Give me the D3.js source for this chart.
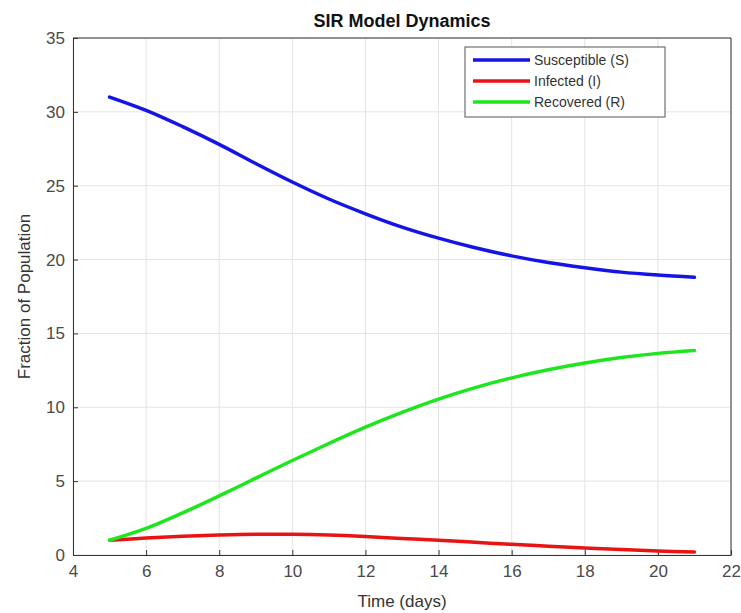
<!DOCTYPE html>
<html>
<head>
<meta charset="utf-8">
<script src="https://cdn.jsdelivr.net/npm/d3@7"></script>
<style>
  body { margin: 0; background: #fff; }
  svg { display: block; font-family: "Liberation Sans", Arial, sans-serif; }
</style>
</head>
<body>
<div id="chart"></div>
<script>
'use strict';

// chart data
var days = [5, 6, 7, 8, 9, 10, 11, 12, 13, 14, 15, 16, 17, 18, 19, 20, 21];
var susceptible = [31.0, 30.1, 29.0, 27.8, 26.5, 25.25, 24.1, 23.1, 22.2, 21.45, 20.8, 20.25, 19.8, 19.45, 19.15, 18.95, 18.8];
var infected = [1.0, 1.15, 1.27, 1.35, 1.4, 1.4, 1.35, 1.25, 1.12, 1.0, 0.86, 0.72, 0.6, 0.48, 0.37, 0.27, 0.2];
var recovered = [1.0, 1.8, 2.85, 4.0, 5.2, 6.4, 7.55, 8.65, 9.65, 10.55, 11.33, 11.99, 12.54, 13.0, 13.37, 13.65, 13.85];
var seriesNames = ['Susceptible (S)', 'Infected (I)', 'Recovered (R)'];
var seriesColors = ['#1414e6', '#e81414', '#1ee61e'];
var xTicks = [4, 6, 8, 10, 12, 14, 16, 18, 20, 22];
var yTicks = [0, 5, 10, 15, 20, 25, 30, 35];

var W = 741, H = 613;
var margin = {top: 38, right: 10, bottom: 58, left: 73};
var width = W - margin.left - margin.right;
var height = H - margin.top - margin.bottom;

var svg = d3.select('#chart').append('svg')
	.attr('width', W)
	.attr('height', H);

var g = svg.append('g')
	.attr('transform', 'translate(' + margin.left + ',' + margin.top + ')');

var x = d3.scaleLinear().domain([4, 22]).range([0, width]);
var y = d3.scaleLinear().domain([0, 35]).range([height, 0]);

// grid
g.append('g').selectAll('line').data(xTicks).enter().append('line')
	.attr('x1', function(d){ return x(d); }).attr('x2', function(d){ return x(d); })
	.attr('y1', 0).attr('y2', height)
	.attr('stroke', '#e4e4e4').attr('stroke-width', 1);
g.append('g').selectAll('line').data(yTicks).enter().append('line')
	.attr('y1', function(d){ return y(d); }).attr('y2', function(d){ return y(d); })
	.attr('x1', 0).attr('x2', width)
	.attr('stroke', '#e4e4e4').attr('stroke-width', 1);

// axes
var xAxis = d3.axisBottom(x).tickValues(xTicks).tickSizeInner(-5).tickSizeOuter(0).tickPadding(10);
var yAxis = d3.axisLeft(y).tickValues(yTicks).tickSizeInner(-5).tickSizeOuter(0).tickPadding(8);

var gx = g.append('g').attr('transform', 'translate(0,' + height + ')').call(xAxis);
var gy = g.append('g').call(yAxis);
[gx, gy].forEach(function(a){
	a.select('.domain').attr('stroke', '#333');
	a.selectAll('.tick line').attr('stroke', '#333');
	a.selectAll('.tick text').attr('fill', '#4a4a4a').style('font-size', '17px');
});

// box top / right
g.append('line').attr('x1', 0).attr('x2', width).attr('y1', 0).attr('y2', 0).attr('stroke', '#333');
g.append('line').attr('x1', width).attr('x2', width).attr('y1', 0).attr('y2', height).attr('stroke', '#333');

// lines
var line = d3.line()
	.x(function(d){ return x(d[0]); })
	.y(function(d){ return y(d[1]); })
	.curve(d3.curveCatmullRom);

[susceptible, infected, recovered].forEach(function(vals, i){
	g.append('path')
		.datum(days.map(function(t, j){ return [t, vals[j]]; }))
		.attr('fill', 'none')
		.attr('stroke', seriesColors[i])
		.attr('stroke-width', 3.5)
		.attr('stroke-linecap', 'round')
		.attr('d', line);
});

// legend
var lg = svg.append('g').attr('transform', 'translate(465,47)');
lg.append('rect').attr('width', 200).attr('height', 70)
	.attr('fill', '#fff').attr('stroke', '#555').attr('stroke-width', 1);
seriesNames.forEach(function(name, i){
	var yy = 13 + i * 21;
	lg.append('line').attr('x1', 8).attr('x2', 65).attr('y1', yy).attr('y2', yy)
		.attr('stroke', seriesColors[i]).attr('stroke-width', 3.5);
	lg.append('text').attr('x', 69).attr('y', yy + 5)
		.attr('fill', '#333').style('font-size', '14px').text(name);
});

// title and labels
svg.append('text').attr('x', margin.left + width / 2).attr('y', 27)
	.attr('text-anchor', 'middle').style('font-size', '18px').style('font-weight', 'bold')
	.attr('fill', '#111').text('SIR Model Dynamics');
svg.append('text').attr('x', margin.left + width / 2).attr('y', 607)
	.attr('text-anchor', 'middle').style('font-size', '17px')
	.attr('fill', '#333').text('Time (days)');
svg.append('text').attr('transform', 'translate(30,' + (margin.top + height / 2) + ') rotate(-90)')
	.attr('text-anchor', 'middle').style('font-size', '17px')
	.attr('fill', '#333').text('Fraction of Population');
</script>
</body>
</html>
